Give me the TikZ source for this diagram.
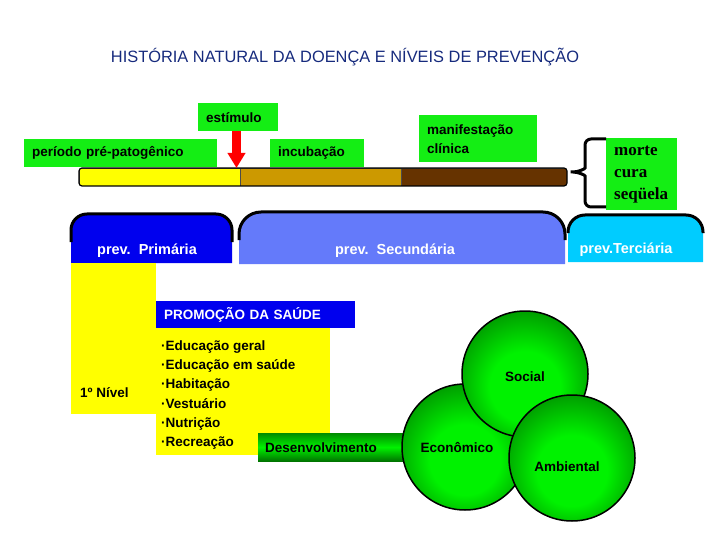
\documentclass[tikz,border=0pt]{standalone}
\usepackage{fontspec}
\setmainfont{Liberation Sans}
\newfontfamily\serifbf{Liberation Serif}
\usetikzlibrary{arrows.meta}
\definecolor{gr}{RGB}{20,238,20}
\definecolor{ttl}{RGB}{22,42,125}
\definecolor{bblue}{RGB}{0,0,238}
\definecolor{peri}{RGB}{100,122,250}
\definecolor{cyanx}{RGB}{0,204,255}
\definecolor{ylw}{RGB}{255,255,0}
\definecolor{tanx}{RGB}{204,153,0}
\definecolor{brn}{RGB}{102,51,0}
\definecolor{dkg}{RGB}{0,135,0}
\definecolor{gbright}{RGB}{0,242,0}
\pgfdeclareradialshading{ballg}{\pgfpoint{0bp}{-7bp}}{color(0bp)=(gbright); color(14bp)=(gbright); color(32bp)=(dkg); color(50bp)=(dkg)}
\newcommand\prevtab[7]{%
  \fill[#7] (#1,#4) -- (#1,#3+#6) arc[start angle=180,end angle=270,radius=#6] -- (#2-#6,#3) arc[start angle=270,end angle=360,radius=#6] -- (#2,#4) -- cycle;
  \draw[line width=3] (#1,#5) -- (#1,#3+#6) arc[start angle=180,end angle=270,radius=#6] -- (#2-#6,#3) arc[start angle=270,end angle=360,radius=#6] -- (#2,#5);
}
\tikzset{
  lab/.style={font=\bfseries\fontsize{13.5}{18}\selectfont},
  gbox/.style={lab, fill=gr, anchor=north west, inner xsep=8pt, inner ysep=0pt, align=left},
  tabtext/.style={font=\bfseries\fontsize{14.5}{17}\selectfont, text=white},
  ball/.style={circle, minimum size=126pt, inner sep=0pt, draw=black, line width=1.5pt, shade, shading=ballg},
}
\begin{document}
\begin{tikzpicture}[x=1pt,y=-1pt]
\useasboundingbox (0,0) rectangle (720,540);

% title
\node[font=\fontsize{16.4}{19}\selectfont, text=ttl] (title) at (345,57) {HISTÓRIA NATURAL DA DOENÇA E NÍVEIS DE PREVENÇÃO};

% top labels
\node[gbox, minimum height=28pt, text width=64pt] (estim) at (198,103) {estímulo};
\node[gbox, minimum height=28pt, text width=177pt] (pre) at (24,139) {período pré-patogênico};
\node[gbox, minimum height=28pt, text width=78pt] (incub) at (270,139) {incubação};
\node[gbox, minimum height=47pt, text width=102pt, font=\bfseries\fontsize{13.5}{19}\selectfont] (manif) at (419,115) {manifestação\\clínica};

% bar
\begin{scope}
  \clip[rounded corners=3pt] (79,168) rectangle (567,186);
  \node[fill=ylw, draw=black!70, line width=0.6pt, anchor=north west, minimum width=161pt, minimum height=18pt, inner sep=0pt] (segA) at (79,168) {};
  \node[fill=tanx, draw=black!70, line width=0.6pt, anchor=north west, minimum width=161pt, minimum height=18pt, inner sep=0pt] (segB) at (240,168) {};
  \node[fill=brn, draw=black!70, line width=0.6pt, anchor=north west, minimum width=166pt, minimum height=18pt, inner sep=0pt] (segC) at (401,168) {};
\end{scope}
\draw[rounded corners=3pt, line width=1.2pt] (79,168) rectangle (567,186);

% stimulus arrow
\coordinate (atip) at (236.5,168);
\draw[line width=9pt, red, -{Triangle[width=17pt,length=15pt]}] (estim.south -| atip) -- (atip);

% brace and outcomes
\coordinate (btip) at (567,172);
\node[gbox, minimum height=72pt, text width=55pt, font=\serifbf\bfseries\fontsize{17}{22}\selectfont] (morte) at (606,138) {morte\\cura\\seqüela};
\draw[line width=3pt, rounded corners=6pt] (morte.north west |- 0,139) -- (585,139) -- (585,162)
  .. controls (585,169) and (578,172) .. (btip)
  .. controls (578,172) and (585,175) .. (585,182) -- (585,207) -- (morte.south west |- 0,207);

% prevention tabs
\prevtab{71}{232}{214}{263}{242}{16}{bblue}
\prevtab{239}{565}{212}{264}{240}{22}{peri}
\prevtab{568}{703}{215}{262}{233}{17}{cyanx}
\node[tabtext] (prim) at (147,251) {prev.\ \ Primária};
\node[tabtext] (sec) at (395,251) {prev.\ \ Secundária};
\node[tabtext] (ter) at (626,250) {prev.Terciária};

% primary level
\node[fill=ylw, anchor=north west, minimum width=85pt, minimum height=151pt, inner sep=0pt] (col) at (71,263) {};
\node[lab, anchor=west, inner sep=0pt] (nivel) at (80,393) {1º Nível};
\node[lab, fill=bblue, text=white, anchor=north west, text width=183pt, minimum height=27pt, inner xsep=8pt, inner ysep=0pt, align=left] (promo) at (156,301) {PROMOÇÃO DA SAÚDE};
\node[fill=ylw, anchor=north west, minimum width=174pt, minimum height=127pt, inner sep=0pt] (list) at (156,328) {};
\node[anchor=west, align=left, inner sep=0pt, font=\bfseries\fontsize{13.5}{19.2}\selectfont] (items) at (161,395) {·Educação geral\\·Educação em saúde\\·Habitação\\·Vestuário\\·Nutrição\\·Recreação};

% development
\node[lab, anchor=north west, text width=133pt, minimum height=28pt, inner xsep=7pt, inner ysep=0pt, align=left,
  top color=green!55!black, bottom color=green!45!black, middle color=gbright] (desen) at (258,433) {Desenvolvimento};

% circles
\node[ball] (econ) at (465,447) {};
\node[ball] (soc) at (525,374) {};
\node[ball] (amb) at (572,458) {};
\node[lab] (soct) at (525,377) {Social};
\node[lab] (econt) at (457,448) {Econômico};
\node[lab] (ambt) at (567,467) {Ambiental};
\end{tikzpicture}
\end{document}
